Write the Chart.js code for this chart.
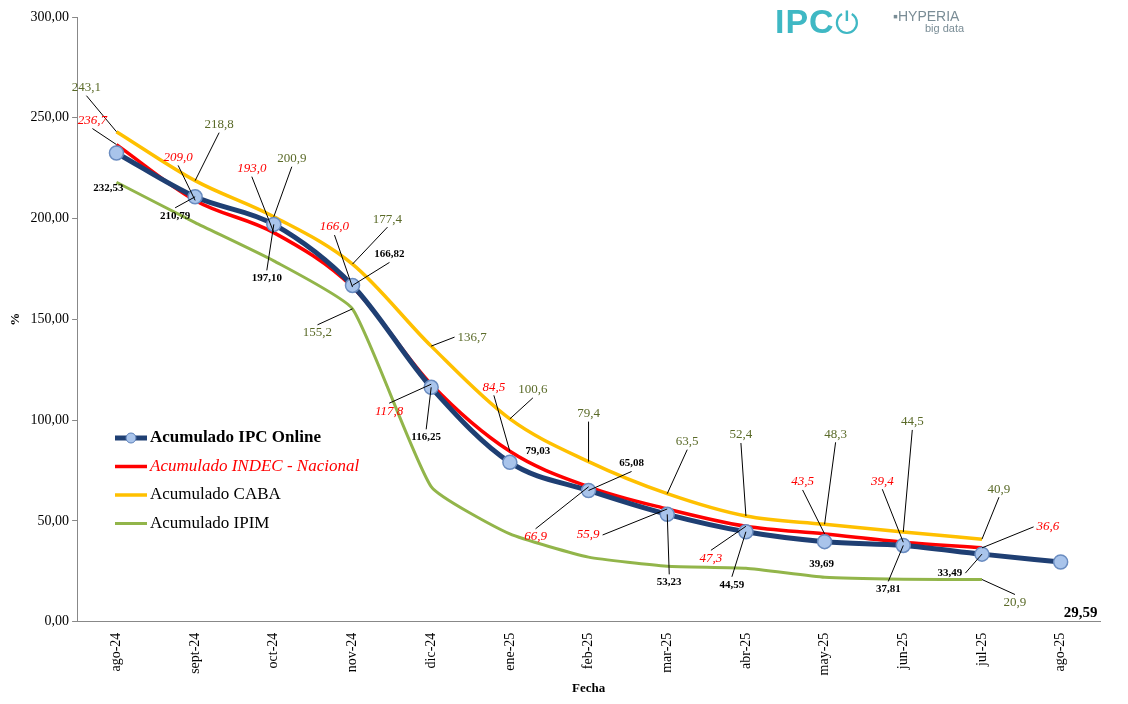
<!DOCTYPE html>
<html><head><meta charset="utf-8">
<script src="https://cdn.jsdelivr.net/npm/chart.js@4/dist/chart.umd.min.js"></script>
<style>
html,body{margin:0;padding:0;background:#fff;}
#wrap{position:relative;width:1128px;height:704px;}
#logo{position:absolute;left:775px;top:2px;font-family:"Liberation Sans";}
</style></head><body>
<div id="wrap"><canvas id="c" width="1128" height="704"></canvas>
<div id="logo"><span style="font-size:34px;color:#3fb8c4;font-weight:bold;letter-spacing:1px">IPC</span><span style="font-size:30px;color:#3fb8c4">⏻</span>
<span style="position:absolute;left:118px;top:6px;font-size:14px;color:#7a8d96;white-space:nowrap">▪HYPERIA</span>
<span style="position:absolute;left:150px;top:20px;font-size:11px;color:#7a8d96;white-space:nowrap">big data</span></div></div>
<script>
const categories=["ago-24","sept-24","oct-24","nov-24","dic-24","ene-25","feb-25","mar-25","abr-25","may-25","jun-25","jul-25","ago-25"];
const ipcOnline=[232.53,210.79,197.10,166.82,116.25,79.03,65.08,53.23,44.59,39.69,37.81,33.49,29.59];
const indec=[236.7,209.0,193.0,166.0,117.8,84.5,66.9,55.9,47.3,43.5,39.4,36.6,null];
const caba=[243.1,218.8,200.9,177.4,136.7,100.6,79.4,63.5,52.4,48.3,44.5,40.9,null];
const ipim=[218,198,179,155.2,67,43.5,32,27.5,26.5,22,21,20.9,null];
const yTicks=[0,50,100,150,200,250,300];

// label placements: [index, dx, dy, leader]
const ipcLab=[[0,-8,35,0],[1,-20,19,1],[2,-7,54,1],[3,37,-31,1],[4,-5,50,1],[5,28,-11,0],[6,43,-27,1],[7,2,68,1],[8,-14,53,1],[9,-3,23,0],[10,-15,44,1],[11,-32,19,1],[12,20,51,0]];
const indecLab=[[0,-24,-24,1],[1,-17,-43,1],[2,-22,-64,1],[3,-18,-60,1],[4,-42,27,1],[5,-16,-64,1],[6,-53,50,1],[7,-79,26,1],[8,-35,32,1],[9,-22,-52,1],[10,-21,-61,1],[11,66,-21,1]];
const cabaLab=[[0,-30,-44,1],[1,24,-56,1],[2,18,-58,1],[3,35,-45,1],[4,41,-9,1],[5,23,-29,1],[6,0,-48,1],[7,20,-52,1],[8,-5,-81,1],[9,11,-90,1],[10,9,-110,1],[11,17,-50,1]];
const ipimLab=[[3,-35,24,1],[11,33,23,1]];

const fmt=(v,d)=>v.toFixed(d).replace('.',',');
const labelPlugin={id:'labs',afterDatasetsDraw(ch){
  const c=ch.ctx;
  function draw(di,labs,font,color,dec){
    const meta=ch.getDatasetMeta(di);
    labs.forEach(([i,dx,dy,ld])=>{
      const p=meta.data[i];const v=ch.data.datasets[di].data[i];
      const tx=p.x+dx,ty=p.y+dy;
      c.save();c.font=font;
      const isBig=(di===0&&i===12);
      if(isBig)c.font='bold 15px "Liberation Serif"';
      const w=c.measureText(fmt(v,dec)).width;
      if(ld){c.strokeStyle='#000';c.lineWidth=1;c.beginPath();c.moveTo(p.x,p.y);
        let ex=tx,ey=ty;
        if(Math.abs(dy)>Math.abs(dx)*0.6){ey=ty+(dy>0?-8:8);} else {ex=tx+(dx>0?-w/2-3:w/2+3);}
        c.lineTo(ex,ey);c.stroke();}
      c.fillStyle=color;c.textAlign='center';c.textBaseline='middle';
      c.fillText(fmt(v,dec),tx,ty);c.restore();
    });
  }
  draw(2,cabaLab,'13px "Liberation Serif"','#5a6a28',1);
  draw(3,ipimLab,'13px "Liberation Serif"','#5a6a28',1);
  draw(1,indecLab,'italic 13px "Liberation Serif"','#ff0000',1);
  draw(0,ipcLab,'bold 11px "Liberation Serif"','#000',2);
  const items=[['Acumulado IPC Online','#1f3f73',5,'bold 17px "Liberation Serif"','#000',true],
    ['Acumulado INDEC - Nacional','#ff0000',3.5,'italic 17px "Liberation Serif"','#ff0000',false],
    ['Acumulado CABA','#ffc000',3.5,'17px "Liberation Serif"','#000',false],
    ['Acumulado IPIM','#92b54a',3,'17px "Liberation Serif"','#000',false]];
  items.forEach((it,k)=>{const y=438+k*28.5;c.save();c.strokeStyle=it[1];c.lineWidth=it[2];
    c.beginPath();c.moveTo(115,y);c.lineTo(147,y);c.stroke();
    if(it[5]){c.fillStyle='#a9c4eb';c.strokeStyle='#5b7fb8';c.lineWidth=1;c.beginPath();c.arc(131,y,5,0,7);c.fill();c.stroke();}
    c.font=it[3];c.fillStyle=it[4];c.textBaseline='middle';c.fillText(it[0],150,y);c.restore();});
}};

new Chart(document.getElementById('c'),{type:'line',
 data:{labels:categories,datasets:[
  {data:ipcOnline,borderColor:'#1f3f73',borderWidth:5,pointRadius:7,pointBackgroundColor:'#a9c4eb',pointBorderColor:'#6a8cc0',pointBorderWidth:1.5,cubicInterpolationMode:'monotone',order:0},
  {data:indec,borderColor:'#ff0000',borderWidth:3.5,pointRadius:0,cubicInterpolationMode:'monotone',order:1},
  {data:caba,borderColor:'#ffc000',borderWidth:3.5,pointRadius:0,cubicInterpolationMode:'monotone',order:2},
  {data:ipim,borderColor:'#92b54a',borderWidth:3,pointRadius:0,tension:0.15,order:3}]},
 options:{responsive:false,animation:false,
  layout:{padding:{top:17,right:28,left:4,bottom:4}},
  plugins:{legend:{display:false},tooltip:{enabled:false}},
  scales:{
   x:{offset:true,grid:{display:false,drawTicks:true},border:{color:'#888'},ticks:{color:'#000',maxRotation:90,minRotation:90,font:{family:'"Liberation Serif"',size:14}},
      title:{display:true,text:'Fecha',font:{family:'"Liberation Serif"',size:13,weight:'bold'},color:'#000',padding:{top:2}}},
   y:{min:0,max:300,afterBuildTicks:a=>{a.ticks=yTicks.map(v=>({value:v}));},grid:{drawOnChartArea:false,drawTicks:true,tickLength:5,color:'#888'},border:{color:'#888'},
      ticks:{color:'#000',callback:v=>fmt(v,2),font:{family:'"Liberation Serif"',size:14}},
      title:{display:true,text:'%',font:{family:'"Liberation Serif"',size:13,weight:'bold'},color:'#000'}}}},
 plugins:[labelPlugin]});
</script></body></html>
